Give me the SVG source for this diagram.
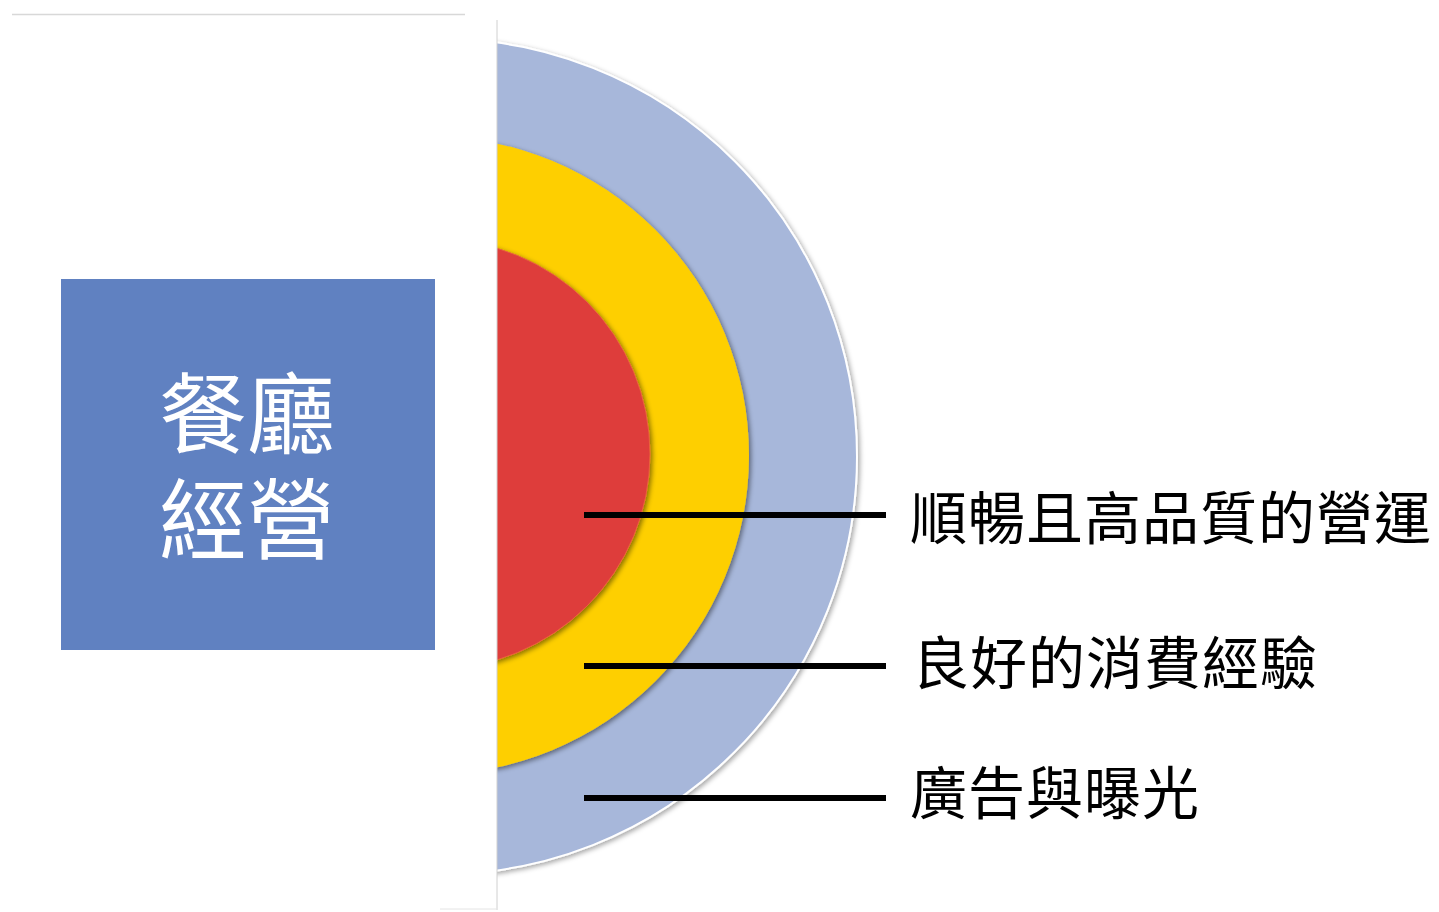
<svg xmlns="http://www.w3.org/2000/svg" width="1439" height="912" viewBox="0 0 1439 912">
  <style>
    .lbl { font-family: "Liberation Sans", "Noto Sans CJK TC", sans-serif; font-size: 57px; fill: #000; letter-spacing: 1px; }
    .title { font-family: "Liberation Sans", "Noto Sans CJK TC", sans-serif; font-size: 88px; fill: #fff; text-anchor: middle; }
    .conn { stroke: #000; stroke-width: 6; fill: none; }
  </style>
  <defs>
    <filter id="sh" x="-10%" y="-10%" width="120%" height="120%">
      <feDropShadow dx="2" dy="2" stdDeviation="2.5" flood-color="#000" flood-opacity="0.45"/>
    </filter>
    <filter id="shOuter" x="-10%" y="-10%" width="120%" height="120%">
      <feDropShadow dx="2" dy="2" stdDeviation="2.5" flood-color="#000" flood-opacity="0.35"/>
    </filter>
    <clipPath id="rightHalf">
      <rect x="497" y="0" width="942" height="912"/>
    </clipPath>
  </defs>
  <rect width="1439" height="912" fill="#fff"/>

  <g id="rings" clip-path="url(#rightHalf)">
    <g id="ring-outer">
      <circle cx="439" cy="456.5" r="418" fill="#A7B7DA" stroke="#fff" stroke-width="2" filter="url(#shOuter)"/>
    </g>
    <g id="ring-middle">
      <circle cx="430" cy="455.5" r="319" fill="#FECF00" filter="url(#sh)"/>
    </g>
    <g id="ring-inner">
      <circle cx="435" cy="454" r="215" fill="#DE3D3B" stroke="#E8643A" stroke-width="1" filter="url(#sh)"/>
    </g>
  </g>

  <g id="panel">
    <rect x="12" y="14" width="485" height="896" fill="#fff"/>
    <line x1="12" y1="14.5" x2="465" y2="14.5" stroke="#d8d8d8" stroke-width="1.5"/>
    <line x1="497" y1="20" x2="497" y2="910" stroke="#d0d0d0" stroke-width="1"/>
    <line x1="440" y1="909" x2="497" y2="909" stroke="#e4e4e4" stroke-width="1"/>
  </g>

  <g id="node-main">
    <rect x="61" y="279" width="374" height="371" fill="#6081C1"/>
    <text class="title" x="247" y="446">餐廳</text>
    <text class="title" x="247" y="552">經營</text>
  </g>

  <g id="connectors">
    <line class="conn" x1="584" y1="515" x2="886" y2="515"/>
    <line class="conn" x1="584" y1="666" x2="886" y2="666"/>
    <line class="conn" x1="584" y1="798" x2="886" y2="798"/>
  </g>

  <g id="label-1"><text class="lbl" x="910" y="539">順暢且高品質的營運</text></g>
  <g id="label-2"><text class="lbl" x="912" y="684">良好的消費經驗</text></g>
  <g id="label-3"><text class="lbl" x="910" y="814">廣告與曝光</text></g>
</svg>
